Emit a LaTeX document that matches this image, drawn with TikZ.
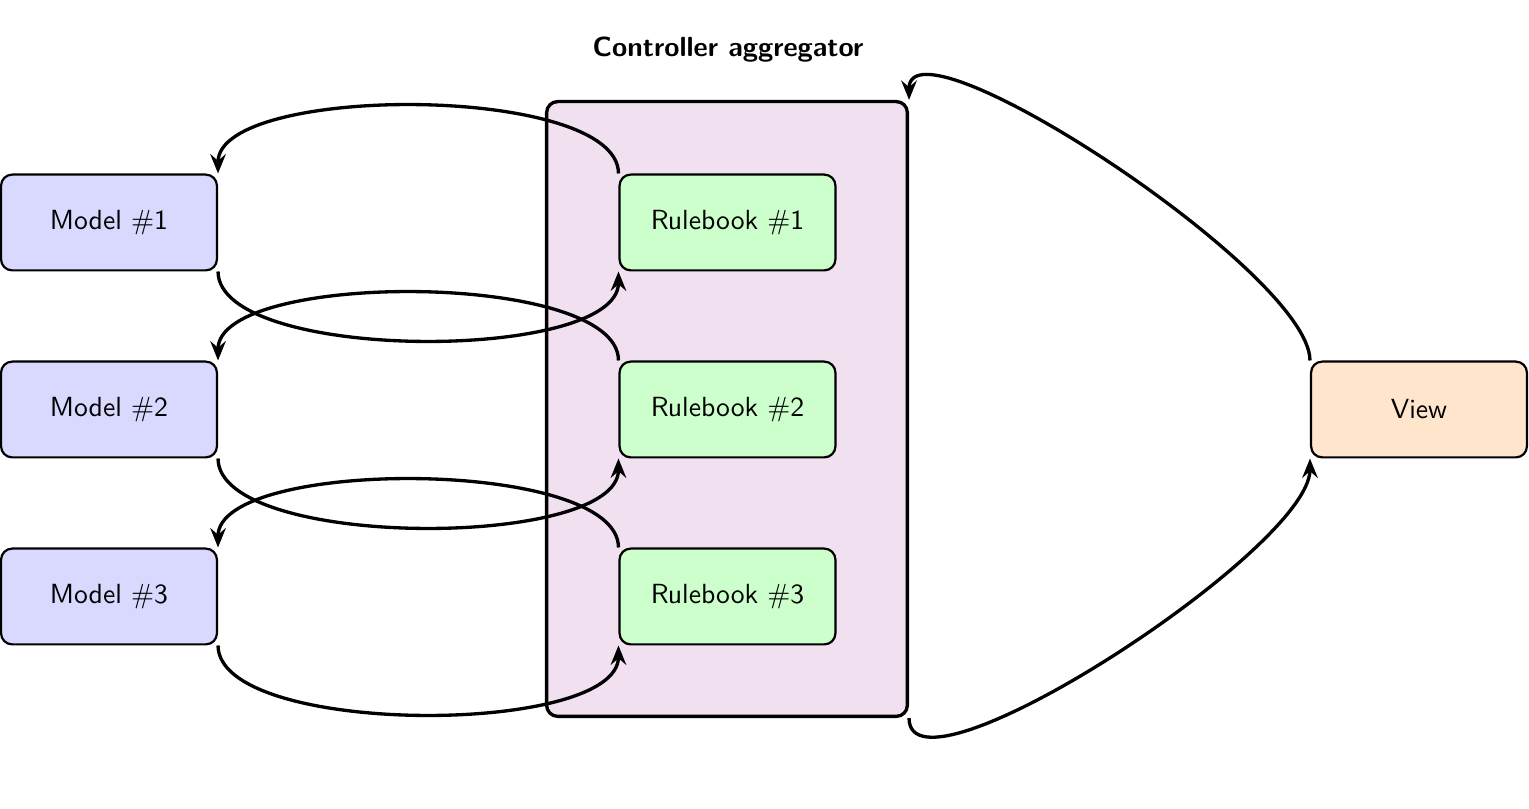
\documentclass[tikz,border=0pt]{standalone}
\usetikzlibrary{arrows.meta}
\begin{document}
\begin{tikzpicture}[x=0.36135pt,y=0.36135pt,
  box/.style={draw=black, thick, rounded corners=4pt, minimum width=78pt, minimum height=34.6pt, inner sep=0pt, font=\sffamily},
  modelbox/.style={box, fill=blue!15},
  rulebox/.style={box, fill=green!20},
  viewbox/.style={box, fill=orange!20},
  aggbox/.style={draw=black, very thick, rounded corners=4pt, fill=violet!12, minimum width=130.35pt, minimum height=222.15pt, inner sep=0pt},
  conn/.style={very thick, -{Stealth[length=7pt,width=5.6pt,inset=2.4pt]}},
  titletext/.style={font=\sffamily\bfseries}
]
\useasboundingbox (0,0) rectangle (1529,809);
\node[aggbox] (agg) at (727,400) {};
\node[titletext] (title) at (728,759) {Controller aggregator};
\node[modelbox] (m1) at (109,586.5) {Model \#1};
\node[modelbox] (m2) at (109,399.5) {Model \#2};
\node[modelbox] (m3) at (109,212.5) {Model \#3};
\node[rulebox] (r1) at (727.5,586.5) {Rulebook \#1};
\node[rulebox] (r2) at (727.5,399.5) {Rulebook \#2};
\node[rulebox] (r3) at (727.5,212.5) {Rulebook \#3};
\node[viewbox] (view) at (1419,399.5) {View};
\draw[conn] (r1.north west) to[out=90,in=90,distance=32.5pt] (m1.north east);
\draw[conn] (m1.south east) to[out=-90,in=-90,distance=33pt] (r1.south west);
\draw[conn] (r2.north west) to[out=90,in=90,distance=32.5pt] (m2.north east);
\draw[conn] (m2.south east) to[out=-90,in=-90,distance=33pt] (r2.south west);
\draw[conn] (r3.north west) to[out=90,in=90,distance=32.5pt] (m3.north east);
\draw[conn] (m3.south east) to[out=-90,in=-90,distance=33pt] (r3.south west);
\draw[conn] (view.north west) to[out=90,in=90,distance=32pt] (agg.north east);
\draw[conn] (agg.south east) to[out=-90,in=-90,distance=33pt] (view.south west);
\end{tikzpicture}
\end{document}
